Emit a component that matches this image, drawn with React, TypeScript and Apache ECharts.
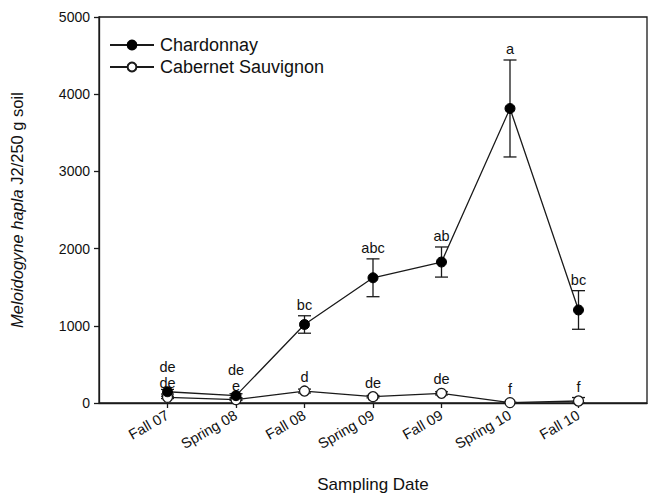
import React, { useEffect, useRef } from "react";
import * as echarts from "echarts";

const categories = ["Fall 07", "Spring 08", "Fall 08", "Spring 09", "Fall 09", "Spring 10", "Fall 10"];
const chardonnay = [146, 95, 1017, 1622, 1826, 3815, 1205];
const chardonnayErr = [30, 25, 113, 245, 195, 628, 250];
const chardonnayLetters = ["de", "de", "bc", "abc", "ab", "a", "bc"];
const cabernet = [73, 43, 155, 82, 125, 5, 26];
const cabernetErr = [15, 10, 25, 15, 20, 5, 45];
const cabernetLetters = ["de", "e", "d", "de", "de", "f", "f"];
const yTicks = [0, 1000, 2000, 3000, 4000, 5000];

const FONT = "'Liberation Sans', Arial, sans-serif";
const INK = "#1a1a1a";

export default function App() {
  const ref = useRef<HTMLDivElement>(null);
  useEffect(() => {
    if (!ref.current) return;
    const chart = echarts.init(ref.current, null, { renderer: "svg" });
    const xs = categories.map((_, i) => i + 1);

    const errData = (vals: number[], errs: number[]) =>
      vals.map((v, i) => [xs[i], v, errs[i], i]);

    const makeRender = (isChard: boolean) => (params: any, api: any) => {
      const x = api.value(0);
      const v = api.value(1);
      const e = api.value(2);
      const i = api.value(3);
      const pTop = api.coord([x, v + e]);
      const pBot = api.coord([x, Math.max(v - e, 0)]);
      const pVal = api.coord([x, v]);
      const half = 6.5;
      const cabTop = api.coord([x, cabernet[i] + cabernetErr[i]])[1];
      const cabVal = api.coord([x, cabernet[i]])[1];
      const cabLabelY = Math.min(cabTop - 11, cabVal - 14);
      let labelY: number;
      let letter: string;
      if (isChard) {
        labelY = Math.min(pTop[1] - 11, pVal[1] - 15, cabLabelY - 16);
        letter = chardonnayLetters[i];
      } else {
        labelY = cabLabelY;
        letter = cabernetLetters[i];
      }
      const st = { stroke: INK, lineWidth: 1.3 };
      return {
        type: "group",
        children: [
          { type: "line", shape: { x1: pTop[0], y1: pTop[1], x2: pBot[0], y2: pBot[1] }, style: st },
          { type: "line", shape: { x1: pTop[0] - half, y1: pTop[1], x2: pTop[0] + half, y2: pTop[1] }, style: st },
          { type: "line", shape: { x1: pBot[0] - half, y1: pBot[1], x2: pBot[0] + half, y2: pBot[1] }, style: st },
          {
            type: "text",
            x: pVal[0],
            y: labelY,
            style: {
              text: letter,
              fill: "#111",
              font: `14.5px ${FONT}`,
              align: "center",
              verticalAlign: "middle",
            },
          },
        ],
      };
    };

    chart.setOption({
      animation: false,
      backgroundColor: "#fff",
      textStyle: { fontFamily: FONT },
      grid: {
        left: 93,
        right: 3,
        top: 17,
        bottom: 94,
        show: true,
        borderColor: INK,
        borderWidth: 1.3,
        containLabel: false,
      },
      legend: {
        orient: "vertical",
        left: 104,
        top: 31,
        itemWidth: 44,
        itemHeight: 11,
        itemGap: 4,
        data: ["Chardonnay", "Cabernet Sauvignon"],
        textStyle: { fontSize: 18, color: "#111", fontFamily: FONT, padding: [0, 0, 0, 1] },
      },
      xAxis: {
        type: "value",
        min: 0,
        max: 8,
        interval: 1,
        name: "Sampling Date",
        nameLocation: "middle",
        nameGap: 73,
        nameTextStyle: { fontSize: 17, color: "#111", fontFamily: FONT },
        axisLine: { lineStyle: { color: INK, width: 1.3 } },
        axisTick: { show: true, length: 5, lineStyle: { color: INK, width: 1.3 }, customValues: xs },
        axisLabel: {
          customValues: xs,
          rotate: 30,
          fontSize: 14.5,
          color: "#111",
          margin: 11,
          formatter: (v: number) => categories[Math.round(v) - 1] ?? "",
        },
        splitLine: { show: false },
      },
      yAxis: {
        type: "value",
        min: 0,
        max: 5000,
        interval: 1000,
        name: "{i|Meloidogyne hapla} J2/250 g soil",
        nameLocation: "middle",
        nameGap: 74,
        nameRotate: 90,
        nameTextStyle: {
          fontSize: 16.5,
          color: "#111",
          fontFamily: FONT,
          rich: { i: { fontStyle: "italic", fontSize: 16.5, color: "#111", fontFamily: FONT } },
        },
        axisLine: { show: true, lineStyle: { color: INK, width: 1.3 } },
        axisTick: { show: true, length: 5, lineStyle: { color: INK, width: 1.3 } },
        axisLabel: {
          fontSize: 14,
          color: "#111",
          margin: 9,
          customValues: yTicks,
          formatter: (v: number) => String(v),
        },
        splitLine: { show: false },
      },
      series: [
        {
          name: "Cabernet Sauvignon err",
          type: "custom",
          renderItem: makeRender(false),
          data: errData(cabernet, cabernetErr),
          z: 1,
          silent: true,
        },
        {
          name: "Chardonnay err",
          type: "custom",
          renderItem: makeRender(true),
          data: errData(chardonnay, chardonnayErr),
          z: 1,
          silent: true,
        },
        {
          name: "Cabernet Sauvignon",
          type: "line",
          data: cabernet.map((v, i) => [xs[i], v]),
          symbol: "circle",
          symbolSize: 10,
          lineStyle: { color: INK, width: 1.3 },
          itemStyle: { color: "#fff", borderColor: INK, borderWidth: 1.3 },
          z: 3,
        },
        {
          name: "Chardonnay",
          type: "line",
          data: chardonnay.map((v, i) => [xs[i], v]),
          symbol: "circle",
          symbolSize: 10,
          lineStyle: { color: INK, width: 1.3 },
          itemStyle: { color: "#000", borderColor: "#000", borderWidth: 1 },
          z: 4,
        },
      ],
    });
    return () => chart.dispose();
  }, []);
  return <div ref={ref} style={{ width: 650, height: 498, position: "absolute", left: 0, top: 0 }} />;
}
